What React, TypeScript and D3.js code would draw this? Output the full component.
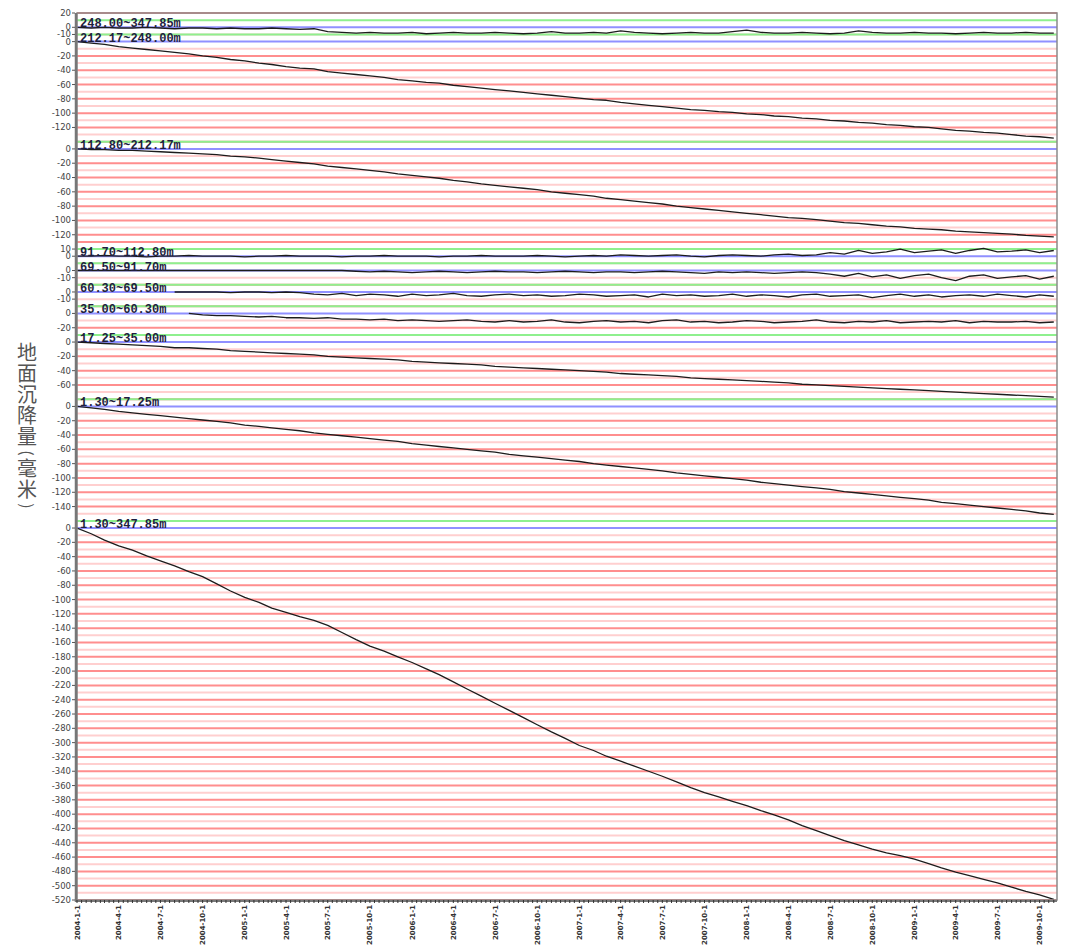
import React from "react";
import * as d3 from "d3";

// Monthly extensometer readings, Jan 2004 – Nov 2009 (mm, negative = settlement)
const FIRST_READING = new Date(2004, 0, 1);
const LAST_READING = new Date(2009, 10, 1);
const AXIS_START = new Date(2004, 0, 1);
const AXIS_END = new Date(2009, 10, 8);

const LAYER_NAMES = [
  "248.00~347.85m",
  "212.17~248.00m",
  "112.80~212.17m",
  "91.70~112.80m",
  "69.50~91.70m",
  "60.30~69.50m",
  "35.00~60.30m",
  "17.25~35.00m",
  "1.30~17.25m",
  "1.30~347.85m",
];

const L248_347 = [
  0, -1, 0, -1, -1, 0, -1, -2, -1, -1, -2, -1, -2, -2, -1, -2, -3, -2,
  -6, -7, -8, -7, -8, -8, -7, -9, -8, -7, -8, -8, -7, -8, -9, -8, -6, -8, -8, -7,
  -8, -5, -7, -8, -9, -8, -7, -8, -8, -6, -4, -7, -8, -8, -7, -8, -9, -8, -5, -7,
  -8, -8, -7, -8, -8, -9, -8, -7, -8, -8, -7, -8, -8,
];

const L212_248 = [
  0, -2, -4, -7, -9, -11, -13, -15, -17, -20, -22, -25, -27, -30, -32, -35, -37, -38,
  -42, -44, -46, -48, -50, -53, -55, -57, -58, -61, -63, -65, -67, -69, -71, -73, -75,
  -77, -79, -81, -82, -85, -87, -89, -91, -93, -95, -96, -98, -99, -101, -102, -104,
  -105, -107, -108, -110, -111, -113, -114, -116, -117, -119, -120, -122, -124, -125,
  -127, -128, -130, -132, -133, -135,
];

const L112_212 = [
  0, -1, -1, -2, -2, -3, -4, -5, -6, -7, -8, -10, -11, -13, -15, -17, -19, -21, -24,
  -26, -28, -30, -32, -35, -37, -39, -41, -44, -46, -49, -51, -53, -55, -57, -60, -62,
  -64, -66, -69, -71, -73, -75, -77, -80, -82, -84, -86, -88, -90, -92, -94, -96, -97,
  -99, -101, -103, -104, -106, -108, -109, -111, -112, -113, -115, -116, -117, -118,
  -119, -121, -122, -123,
];

const L91_112 = [
  0, 0, 1, 0, 0, -1, 0, 0, 1, 0, 0, 0, -1, 0, 0, 1, 0, 0, 0, -1, 0, 0, 1, 0, 0, 0, -1,
  0, 0, 1, 0, 0, 0, 1, 0, -1, 0,
  1, 0, 2, 1, 0, 1, 2, 0, -1, 1, 2, 1, 0, 2, 3, 1, 2,
  5, 3, 8, 4, 6, 10, 5, 7, 9, 4, 8, 11, 6, 7, 9, 5, 8,
];

const L69_91 = [
  0, 0, 0, 0, 0, 0, 0, 0, 0, 0, 0, 0, 0, 0, 0, 0, 0, 0, 0, 0,
  -1, -2, -1, -2, -3, -2, -1, -2, -3, -2, -1, -2, -2, -3, -2, -1, -2, -3, -2, -2, -3,
  -2, -1, -2, -3, -4, -2, -3, -2, -3, -4, -3, -2, -3,
  -5, -8, -4, -9, -6, -11, -7, -5, -10, -14, -8, -6, -11, -9, -7, -12, -8,
];

const L60_69 = [
  null, null, null, null, null, null, null,
  0, 0, 0, 0, -1, 0, 0, -1, 0, -1,
  -3, -4, -2, -5, -3, -4, -6, -3, -5, -4, -2, -5, -6, -4, -3, -5, -4, -6, -5, -3, -4,
  -6, -5, -4, -7, -3, -5, -4, -6, -5, -3, -6, -4, -5, -7, -4, -3, -6, -5, -4, -8, -5,
  -3, -6, -4, -7, -5, -4, -6, -3, -5, -7, -4, -6,
];

const L35_60 = [
  null, null, null, null, null, null, null, null,
  0, -2, -3, -3, -4, -5, -4, -6, -6, -7, -6, -8, -8, -9, -8, -10, -9, -10, -11, -10,
  -9, -11, -12,
  -10, -12, -11, -9, -12, -13, -11, -10, -12, -11, -13, -10, -9, -12, -11, -13, -12,
  -10, -11, -13, -12, -11, -9, -12, -13, -11, -12, -10, -13, -12, -11, -12, -10, -13,
  -11, -12, -12, -11, -13, -12,
];

const L17_35 = [
  0, -1, -2, -3, -4, -5, -6, -8, -8, -9, -10, -12, -13, -14, -15, -16, -17, -18, -20,
  -21, -22, -23, -24, -25, -27, -28, -29, -30, -31, -32, -34, -35, -36, -37, -38, -39,
  -40, -41, -42, -44, -45, -46, -47, -48, -50, -51, -52, -53, -54, -55, -56, -57, -59,
  -60, -61, -62, -63, -64, -65, -66, -67, -68, -69, -70, -71, -72, -73, -74, -75, -76,
  -77,
];

const L1_17 = [
  0, -2, -4, -7, -9, -11, -13, -15, -17, -19, -21, -23, -26, -28, -30, -32, -34, -37,
  -39, -41, -43, -45, -47, -49, -52, -54, -56, -58, -60, -62, -64, -67, -69, -71, -73,
  -75, -77, -80, -82, -84, -86, -88, -90, -93, -95, -97, -99, -101, -103, -106, -108,
  -110, -112, -114, -116, -119, -121, -123, -125, -127, -129, -131, -134, -136, -138,
  -140, -142, -144, -146, -149, -151,
];

const L1_347 = [
  0, -8, -17, -25, -31, -39, -46, -53, -61, -68, -78, -88, -97, -104, -112, -118, -124,
  -129, -136, -146, -156, -165, -172, -180, -188, -197, -205, -215, -225, -235, -245,
  -255, -265, -275, -285, -294, -304, -311, -319, -326, -333, -340, -347, -355, -363,
  -370, -376, -382, -388, -395, -401, -408, -416, -423, -430, -437, -443, -449, -454,
  -458, -463, -469, -475, -481, -486, -491, -496, -502, -508, -513, -519,
];

// Vertical extent of each strip (mm) and its labelled ticks
const DOMAIN_TOP = [20, 10, 10, 20, 10, 10, 10, 10, 10, 10];
const DOMAIN_BOTTOM = [-10, -140, -130, -10, -20, -20, -30, -80, -160, -520];
const TICKS_P1 = [20, 0, -10];
const TICKS_P2 = [0, -20, -40, -60, -80, -100, -120];
const TICKS_P3 = [0, -20, -40, -60, -80, -100, -120];
const TICKS_P4 = [10, 0];
const TICKS_P5 = [0, -10];
const TICKS_P6 = [0, -10];
const TICKS_P7 = [0, -20];
const TICKS_P8 = [0, -20, -40, -60];
const TICKS_P9 = [0, -20, -40, -60, -80, -100, -120, -140];
const TICKS_P10 = [
  0, -20, -40, -60, -80, -100, -120, -140, -160, -180, -200, -220, -240, -260, -280,
  -300, -320, -340, -360, -380, -400, -420, -440, -460, -480, -500, -520,
];

const Y_TITLE = "地面沉降量(毫米)";

const SERIES = [L248_347, L212_248, L112_212, L91_112, L69_91, L60_69, L35_60, L17_35, L1_17, L1_347];
const TICKS = [TICKS_P1, TICKS_P2, TICKS_P3, TICKS_P4, TICKS_P5, TICKS_P6, TICKS_P7, TICKS_P8, TICKS_P9, TICKS_P10];

const W = 1074;
const H = 947;
const PLOT = { left: 77, right: 1057, top: 13, bottom: 900 };

const COLORS = {
  red: "#ff8e8e",
  pink: "#ffcfcf",
  green: "#8ef08e",
  blue: "#9090ff",
  line: "#1c1c1c",
  frame: "#8a8a8a",
};

export default function App() {
  const months = d3.timeMonth.range(FIRST_READING, d3.timeMonth.offset(LAST_READING, 1));
  const x = d3.scaleTime().domain([AXIS_START, AXIS_END]).range([PLOT.left, PLOT.right]);

  const spans = DOMAIN_TOP.map((t, i) => t - DOMAIN_BOTTOM[i]);
  const mmToPx = (PLOT.bottom - PLOT.top) / d3.sum(spans);
  let acc = PLOT.top;
  const panels = LAYER_NAMES.map((name, i) => {
    const y0 = acc;
    const y1 = acc + spans[i] * mmToPx;
    acc = y1;
    const y = d3.scaleLinear().domain([DOMAIN_TOP[i], DOMAIN_BOTTOM[i]]).range([y0, y1]);
    const grid = d3.range(DOMAIN_TOP[i], DOMAIN_BOTTOM[i] - 0.001, -10);
    return { name, y, y0, y1, grid, values: SERIES[i], ticks: TICKS[i] };
  });

  const quarterTicks = d3.timeMonth.every(3)!.range(AXIS_START, new Date(2009, 9, 2));
  const minorTicks = d3
    .timeDay.range(AXIS_START, AXIS_END)
    .filter((d) => d.getDate() === 1 || d.getDate() === 11 || d.getDate() === 21);
  const fmtDate = (d: Date) => `${d.getFullYear()}-${d.getMonth() + 1}-${d.getDate()}`;

  // vertical title: full glyphs advance 21px, brackets (turned sideways) 11px
  const titleChars = Array.from(Y_TITLE);
  const isBracket = (c: string) => c === "(" || c === ")";
  const adv = (c: string) => (isBracket(c) ? 11 : 21);
  let ty = 353;
  const titlePos = titleChars.map((c, i) => {
    if (i > 0) ty += (adv(titleChars[i - 1]) + adv(c)) / 2;
    return { c, y: ty };
  });

  return (
    <svg
      width={W}
      height={H}
      viewBox={`0 0 ${W} ${H}`}
      style={{ position: "absolute", left: 0, top: 0, background: "#fff" }}
    >
      <rect x={0} y={0} width={W} height={H} fill="#fff" />

      {/* horizontal reference lines of every strip */}
      {panels.map((p, i) => (
        <g key={`grid-${i}`}>
          {p.grid
            .filter((v) => v !== 0 && v !== 10)
            .map((v) => (
              <line
                key={v}
                x1={PLOT.left}
                x2={PLOT.right}
                y1={p.y(v)}
                y2={p.y(v)}
                stroke={v % 20 === 0 ? COLORS.red : COLORS.pink}
                strokeWidth={2}
              />
            ))}
        </g>
      ))}
      {panels.map((p, i) => (
        <g key={`ref-${i}`}>
          <line x1={PLOT.left} x2={PLOT.right} y1={p.y(10)} y2={p.y(10)} stroke={COLORS.green} strokeWidth={2} />
          <line x1={PLOT.left} x2={PLOT.right} y1={p.y(0)} y2={p.y(0)} stroke={COLORS.blue} strokeWidth={2} />
        </g>
      ))}

      {/* settlement curves */}
      {panels.map((p, i) => {
        const line = d3
          .line<number | null>()
          .defined((v) => v !== null)
          .x((_, j) => x(months[j]))
          .y((v) => p.y(v as number));
        return (
          <path
            key={`curve-${i}`}
            d={line(p.values as (number | null)[]) || ""}
            fill="none"
            stroke={COLORS.line}
            strokeWidth={1.3}
            strokeLinejoin="round"
          />
        );
      })}

      {/* layer depth labels */}
      {panels.map((p, i) => (
        <text
          key={`name-${i}`}
          x={80}
          y={p.y(0)}
          fontFamily="Liberation Mono, DejaVu Sans Mono, monospace"
          fontWeight="bold"
          fontSize={12}
          fill="#1e1e40"
        >
          {p.name}
        </text>
      ))}

      {/* frame */}
      <rect
        x={PLOT.left}
        y={PLOT.top}
        width={PLOT.right - PLOT.left}
        height={PLOT.bottom - PLOT.top}
        fill="none"
        stroke={COLORS.frame}
        strokeWidth={1.5}
      />
      <line x1={PLOT.left - 1} x2={PLOT.left - 1} y1={PLOT.top} y2={PLOT.bottom + 2} stroke="#777" strokeWidth={2.5} />
      <line x1={PLOT.left - 1} x2={PLOT.right} y1={PLOT.bottom + 1} y2={PLOT.bottom + 1} stroke="#777" strokeWidth={2} />

      {/* y ticks */}
      {panels.map((p, i) => (
        <g key={`yt-${i}`}>
          {p.ticks.map((t) => (
            <g key={t}>
              <line x1={PLOT.left - 5} x2={PLOT.left - 2} y1={p.y(t)} y2={p.y(t)} stroke="#555" strokeWidth={1} />
              <text
                x={PLOT.left - 6}
                y={p.y(t)}
                dy="0.35em"
                textAnchor="end"
                fontFamily="DejaVu Sans, sans-serif"
                fontSize={8.5}
                fill="#444"
              >
                {t}
              </text>
            </g>
          ))}
        </g>
      ))}

      {/* x axis */}
      {minorTicks.map((d, i) => (
        <line
          key={`mt-${i}`}
          x1={x(d)}
          x2={x(d)}
          y1={PLOT.bottom}
          y2={PLOT.bottom + 3}
          stroke="#333"
          strokeWidth={1}
        />
      ))}
      {quarterTicks.map((d, i) => (
        <text
          key={`xl-${i}`}
          transform={`translate(${x(d) + 2.5},${PLOT.bottom + 5}) rotate(-90)`}
          textAnchor="end"
          fontFamily="DejaVu Sans, sans-serif"
          fontSize={7}
          fontWeight="bold"
          fill="#333"
        >
          {fmtDate(d)}
        </text>
      ))}

      {/* y title, one glyph per row; brackets turned to read vertically */}
      {titlePos.map((t, i) => (
        <text
          key={`tt-${i}`}
          transform={`translate(27,${t.y})${isBracket(t.c) ? " rotate(90)" : ""}`}
          dy="0.35em"
          textAnchor="middle"
          fontFamily="Noto Sans CJK SC, sans-serif"
          fontSize={isBracket(t.c) ? 16 : 20}
          fill="#555"
        >
          {t.c}
        </text>
      ))}
    </svg>
  );
}
